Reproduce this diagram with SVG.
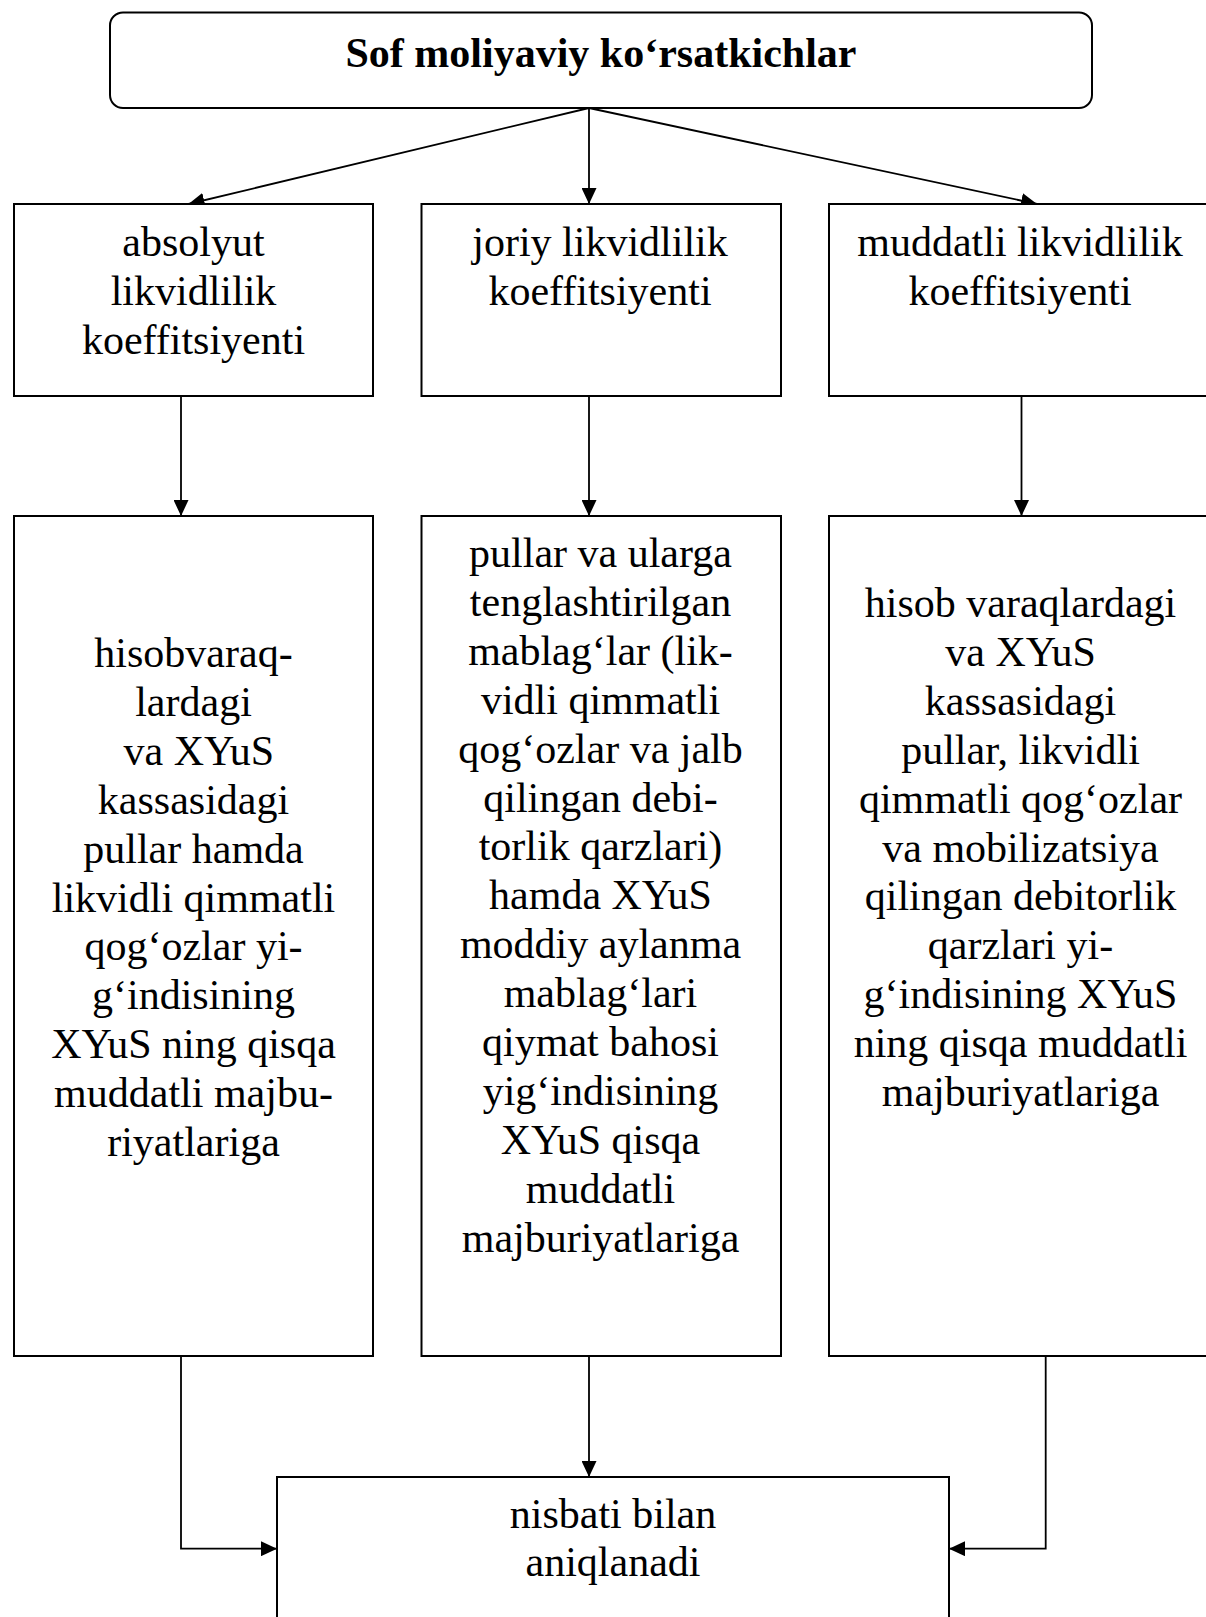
<svg xmlns="http://www.w3.org/2000/svg" width="1206" height="1617" viewBox="0 0 1206 1617">
<style>
.box{fill:#fff;stroke:#000;stroke-width:2}
.t{font-family:"Liberation Serif","Times New Roman",serif;font-size:42px;fill:#000;text-anchor:middle}
.b{font-weight:bold}
.c{fill:none;stroke:#000;stroke-width:1.8}
</style>
<defs>
<marker id="ah" markerUnits="userSpaceOnUse" markerWidth="16" markerHeight="15" refX="16" refY="7.5" orient="auto">
<path d="M0,0 L16,7.5 L0,15 z" fill="#000"/>
</marker>
</defs>
<rect width="1206" height="1617" fill="#fff"/>
<g id="connectors">
<line class="c" x1="589" y1="108" x2="188.5" y2="204" marker-end="url(#ah)"/>
<line class="c" x1="589" y1="108" x2="589" y2="204" marker-end="url(#ah)"/>
<line class="c" x1="589" y1="108" x2="1037" y2="204" marker-end="url(#ah)"/>
<line class="c" x1="181" y1="396" x2="181" y2="516" marker-end="url(#ah)"/>
<line class="c" x1="589" y1="396" x2="589" y2="516" marker-end="url(#ah)"/>
<line class="c" x1="1021.5" y1="396" x2="1021.5" y2="516" marker-end="url(#ah)"/>
<polyline class="c" points="181,1356 181,1548.7 277,1548.7" marker-end="url(#ah)"/>
<line class="c" x1="589" y1="1356" x2="589" y2="1477" marker-end="url(#ah)"/>
<polyline class="c" points="1045.7,1356 1045.7,1548.7 949,1548.7" marker-end="url(#ah)"/>
</g>
<g id="top">
<rect class="box" x="110" y="12.5" width="982" height="95.5" rx="13" ry="13"/>
<text class="t b" x="601" y="67">Sof moliyaviy ko‘rsatkichlar</text>
</g>
<g id="n1">
<rect class="box" x="14" y="204" width="359" height="192"/>
<text class="t" x="193.5" y="256"><tspan x="193.5">absolyut</tspan><tspan x="193.5" dy="48.9">likvidlilik</tspan><tspan x="193.5" dy="48.9">koeffitsiyenti</tspan></text>
</g>
<g id="n2">
<rect class="box" x="421.5" y="204" width="359.5" height="192"/>
<text class="t" x="600" y="256"><tspan x="600">joriy likvidlilik</tspan><tspan x="600" dy="48.9">koeffitsiyenti</tspan></text>
</g>
<g id="n3">
<rect class="box" x="829" y="204" width="382" height="192"/>
<text class="t" x="1020" y="256"><tspan x="1020">muddatli likvidlilik</tspan><tspan x="1020" dy="48.9">koeffitsiyenti</tspan></text>
</g>
<g id="n4">
<rect class="box" x="14" y="516" width="359" height="840"/>
<text class="t" x="193.5" y="667"><tspan x="193.5">hisobvaraq-</tspan><tspan x="193.5" dy="48.9">lardagi</tspan><tspan x="193.5" dy="48.9">&#160;va XYuS</tspan><tspan x="193.5" dy="48.9">kassasidagi</tspan><tspan x="193.5" dy="48.9">pullar hamda</tspan><tspan x="193.5" dy="48.9">likvidli qimmatli</tspan><tspan x="193.5" dy="48.9">qog‘ozlar yi-</tspan><tspan x="193.5" dy="48.9">g‘indisining</tspan><tspan x="193.5" dy="48.9">XYuS ning qisqa</tspan><tspan x="193.5" dy="48.9">muddatli majbu-</tspan><tspan x="193.5" dy="48.9">riyatlariga</tspan></text>
</g>
<g id="n5">
<rect class="box" x="421.5" y="516" width="359.5" height="840"/>
<text class="t" x="600.5" y="567"><tspan x="600.5">pullar va ularga</tspan><tspan x="600.5" dy="48.9">tenglashtirilgan</tspan><tspan x="600.5" dy="48.9">mablag‘lar (lik-</tspan><tspan x="600.5" dy="48.9">vidli qimmatli</tspan><tspan x="600.5" dy="48.9">qog‘ozlar va jalb</tspan><tspan x="600.5" dy="48.9">qilingan debi-</tspan><tspan x="600.5" dy="48.9">torlik qarzlari)</tspan><tspan x="600.5" dy="48.9">hamda XYuS</tspan><tspan x="600.5" dy="48.9">moddiy aylanma</tspan><tspan x="600.5" dy="48.9">mablag‘lari</tspan><tspan x="600.5" dy="48.9">qiymat bahosi</tspan><tspan x="600.5" dy="48.9">yig‘indisining</tspan><tspan x="600.5" dy="48.9">XYuS qisqa</tspan><tspan x="600.5" dy="48.9">muddatli</tspan><tspan x="600.5" dy="48.9">majburiyatlariga</tspan></text>
</g>
<g id="n6">
<rect class="box" x="829" y="516" width="382" height="840"/>
<text class="t" x="1020.5" y="617"><tspan x="1020.5">hisob varaqlardagi</tspan><tspan x="1020.5" dy="48.9">va XYuS</tspan><tspan x="1020.5" dy="48.9">kassasidagi</tspan><tspan x="1020.5" dy="48.9">pullar, likvidli</tspan><tspan x="1020.5" dy="48.9">qimmatli qog‘ozlar</tspan><tspan x="1020.5" dy="48.9">va mobilizatsiya</tspan><tspan x="1020.5" dy="48.9">qilingan debitorlik</tspan><tspan x="1020.5" dy="48.9">qarzlari yi-</tspan><tspan x="1020.5" dy="48.9">g‘indisining XYuS</tspan><tspan x="1020.5" dy="48.9">ning qisqa muddatli</tspan><tspan x="1020.5" dy="48.9">majburiyatlariga</tspan></text>
</g>
<g id="n7">
<rect class="box" x="277" y="1477" width="672" height="160"/>
<text class="t" x="613" y="1527.5"><tspan x="613">nisbati bilan</tspan><tspan x="613" dy="48.9">aniqlanadi</tspan></text>
</g>
</svg>
